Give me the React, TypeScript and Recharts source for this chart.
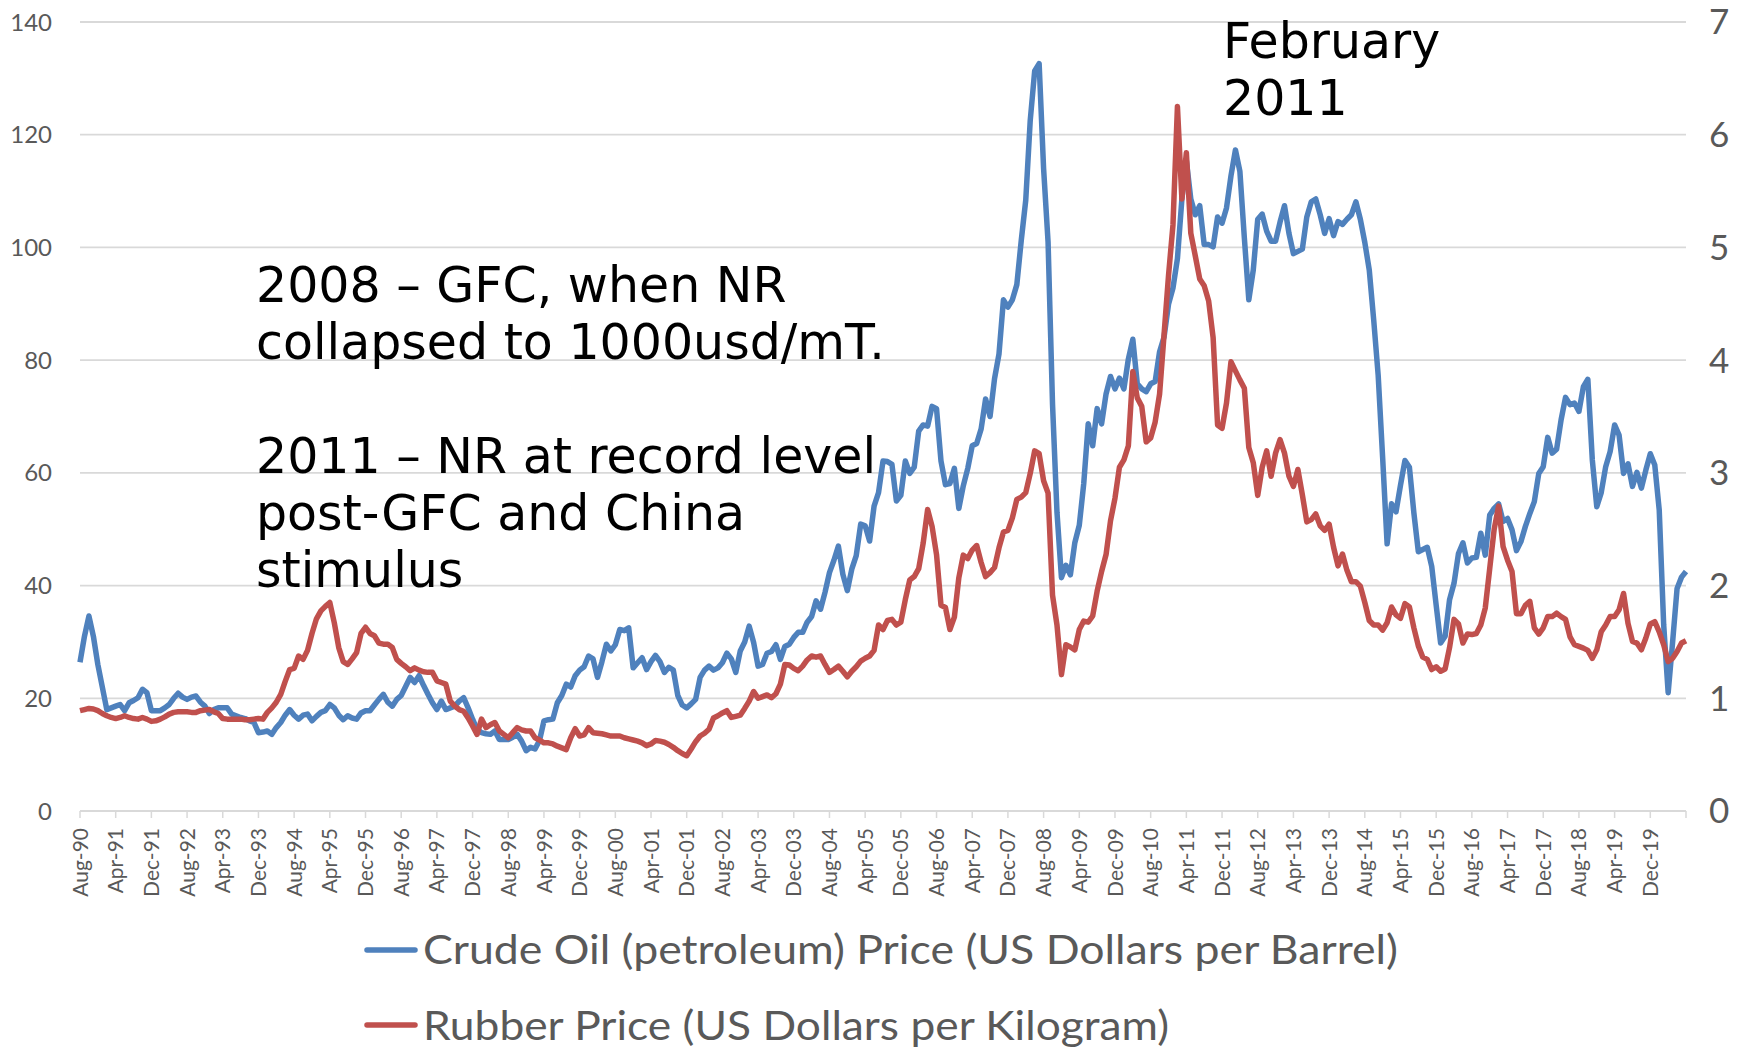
import React from 'react'
import { LineChart, Line, XAxis, YAxis, CartesianGrid, Legend } from 'recharts'

const MONTH_NAMES = ['Jan', 'Feb', 'Mar', 'Apr', 'May', 'Jun', 'Jul', 'Aug', 'Sep', 'Oct', 'Nov', 'Dec']

// crude oil, USD per barrel, monthly from Aug-90
const oilPrice = [
  // 1990 (Aug-Dec)
  26.4, 31.0, 34.6, 31.0, 26.0,
  // 1991
  22.0, 18.0, 18.3, 18.6, 18.9, 17.8, 19.2, 19.6, 20.1, 21.6, 21.0, 17.8,
  // 1992
  17.8, 17.8, 18.3, 18.9, 20.0, 20.9, 20.2, 19.8, 20.2, 20.4, 19.3, 18.6,
  // 1993
  17.3, 18.0, 18.3, 18.3, 18.3, 17.2, 16.9, 16.6, 16.4, 16.0, 15.7, 13.9,
  // 1994
  14.0, 14.2, 13.6, 14.8, 15.7, 17.0, 18.0, 17.0, 16.3, 17.0, 17.2, 16.0,
  // 1995
  16.8, 17.5, 17.8, 18.9, 18.3, 17.0, 16.2, 16.9, 16.5, 16.3, 17.4, 17.8,
  // 1996
  17.8, 18.8, 19.8, 20.7, 19.3, 18.6, 19.8, 20.5, 22.1, 23.7, 22.8, 24.0,
  // 1997
  22.3, 20.7, 19.2, 18.0, 19.5, 18.0, 18.3, 18.6, 19.5, 20.1, 18.3, 16.3,
  // 1998
  14.5, 13.9, 13.7, 13.6, 14.2, 12.7, 12.7, 12.7, 13.1, 13.6, 12.4, 10.7,
  // 1999
  11.3, 11.0, 12.5, 16.0, 16.2, 16.3, 19.2, 20.5, 22.5, 22.0, 24.0, 25.0,
  // 2000
  25.6, 27.5, 27.0, 23.7, 26.5, 29.6, 28.4, 29.5, 32.2, 32.0, 32.5, 25.4,
  // 2001
  26.3, 27.2, 25.1, 26.5, 27.6, 26.5, 24.6, 25.5, 25.0, 20.5, 18.8, 18.3,
  // 2002
  19.0, 19.8, 23.7, 25.0, 25.7, 25.0, 25.4, 26.3, 28.0, 27.0, 24.6, 28.4,
  // 2003
  30.0, 32.8, 29.9, 25.7, 26.0, 28.0, 28.3, 29.5, 26.9, 29.2, 29.6, 30.8,
  // 2004
  31.7, 31.7, 33.5, 34.5, 37.3, 35.8, 38.8, 42.3, 44.5, 47.0, 42.0, 39.1,
  // 2005
  42.9, 45.3, 50.9, 50.6, 47.9, 54.1, 56.5, 62.1, 62.0, 61.5, 55.0, 56.0,
  // 2006
  62.1, 59.9, 61.0, 67.4, 68.5, 68.3, 71.8, 71.4, 62.1, 57.9, 58.1, 60.8,
  // 2007
  53.7, 57.7, 60.8, 64.8, 65.2, 67.8, 73.1, 70.0, 76.7, 81.1, 90.7, 89.4,
  // 2008
  90.7, 93.4, 101.3, 108.4, 122.5, 131.3, 132.6, 114.0, 101.0, 72.2, 53.0, 41.4,
  // 2009
  43.6, 41.9, 47.6, 50.7, 58.1, 68.7, 64.8, 71.4, 68.7, 74.0, 77.1, 74.9,
  // 2010
  76.8, 74.9, 80.2, 83.7, 75.8, 74.9, 74.4, 75.8, 76.2, 81.5, 84.1, 89.9,
  // 2011
  92.8, 98.0, 108.6, 115.4, 108.6, 105.8, 107.4, 100.5, 100.5, 100.1, 105.4, 104.3,
  // 2012
  107.0, 112.7, 117.3, 113.5, 101.7, 90.7, 96.0, 105.0, 105.9, 102.9, 101.1, 101.1,
  // 2013
  104.5, 107.4, 102.5, 98.9, 99.3, 99.7, 105.4, 108.1, 108.6, 105.8, 102.5, 105.1,
  // 2014
  102.1, 104.6, 104.1, 105.0, 105.8, 108.1, 105.0, 100.9, 96.0, 87.1, 77.3, 62.7,
  // 2015
  47.4, 54.5, 53.1, 57.8, 62.2, 61.0, 52.9, 46.0, 46.4, 46.8, 43.4, 36.5,
  // 2016
  29.8, 31.0, 37.5, 40.4, 45.7, 47.6, 44.0, 44.9, 45.0, 49.3, 45.4, 52.5,
  // 2017
  53.7, 54.5, 51.4, 51.9, 49.9, 46.2, 47.8, 50.5, 52.8, 54.9, 59.9, 61.1,
  // 2018
  66.3, 63.5, 64.2, 69.4, 73.4, 72.1, 72.4, 70.9, 75.3, 76.6, 62.3, 54.0,
  // 2019
  56.5, 61.1, 63.8, 68.5, 66.7, 59.9, 61.6, 57.6, 60.1, 57.3, 60.5, 63.4,
  // 2020 (Jan-Aug)
  61.4, 53.4, 33.0, 21.0, 30.0, 39.5, 41.5, 42.5,
]

// natural rubber, USD per kg, same months
const rubberPrice = [
  // 1990
  0.89, 0.9, 0.91, 0.905, 0.89,
  // 1991
  0.865, 0.845, 0.83, 0.82, 0.83, 0.845, 0.83, 0.82, 0.815, 0.83, 0.815, 0.795,
  // 1992
  0.8, 0.815, 0.835, 0.86, 0.875, 0.88, 0.88, 0.88, 0.875, 0.875, 0.89, 0.895,
  // 1993
  0.9, 0.88, 0.865, 0.82, 0.815, 0.815, 0.815, 0.815, 0.81, 0.81, 0.815, 0.82,
  // 1994
  0.815, 0.875, 0.915, 0.965, 1.035, 1.15, 1.255, 1.265, 1.375, 1.345, 1.425, 1.575,
  // 1995
  1.705, 1.775, 1.815, 1.85, 1.67, 1.45, 1.325, 1.3, 1.35, 1.405, 1.575, 1.63,
  // 1996
  1.575, 1.555, 1.49, 1.48, 1.48, 1.45, 1.345, 1.31, 1.28, 1.245, 1.27, 1.25,
  // 1997
  1.235, 1.23, 1.23, 1.155, 1.14, 1.125, 0.975, 0.93, 0.9, 0.885, 0.825, 0.755,
  // 1998
  0.68, 0.815, 0.74, 0.765, 0.785, 0.71, 0.68, 0.65, 0.695, 0.74, 0.72, 0.71,
  // 1999
  0.71, 0.65, 0.63, 0.605, 0.605, 0.595, 0.575, 0.56, 0.545, 0.65, 0.73, 0.665,
  // 2000
  0.675, 0.74, 0.695, 0.69, 0.685, 0.675, 0.665, 0.665, 0.665, 0.65, 0.64, 0.63,
  // 2001
  0.62, 0.605, 0.58, 0.595, 0.625, 0.62, 0.61, 0.59, 0.565, 0.535, 0.51, 0.49,
  // 2002
  0.55, 0.615, 0.665, 0.69, 0.725, 0.825, 0.845, 0.87, 0.89, 0.83, 0.84, 0.85,
  // 2003
  0.91, 0.975, 1.06, 1.0, 1.015, 1.03, 1.005, 1.04, 1.125, 1.3, 1.295, 1.265,
  // 2004
  1.245, 1.285, 1.34, 1.375, 1.365, 1.375, 1.3, 1.23, 1.255, 1.285, 1.24, 1.19,
  // 2005
  1.24, 1.28, 1.33, 1.355, 1.375, 1.425, 1.65, 1.61, 1.69, 1.7, 1.65, 1.675,
  // 2006
  1.875, 2.05, 2.08, 2.15, 2.375, 2.675, 2.525, 2.275, 1.825, 1.805, 1.61, 1.72,
  // 2007
  2.07, 2.27, 2.24, 2.315, 2.355, 2.205, 2.08, 2.115, 2.16, 2.335, 2.475, 2.49,
  // 2008
  2.6, 2.765, 2.785, 2.825, 2.995, 3.195, 3.17, 2.93, 2.82, 1.915, 1.65, 1.21,
  // 2009
  1.475, 1.455, 1.43, 1.61, 1.685, 1.675, 1.73, 1.95, 2.125, 2.275, 2.575, 2.775,
  // 2010
  3.05, 3.115, 3.24, 3.9, 3.665, 3.59, 3.275, 3.31, 3.45, 3.7, 4.225, 4.75,
  // 2011
  5.2, 6.25, 5.43, 5.84, 5.125, 4.925, 4.72, 4.66, 4.525, 4.2, 3.425, 3.395,
  // 2012
  3.62, 3.985, 3.905, 3.825, 3.75, 3.225, 3.09, 2.8, 3.05, 3.195, 2.97, 3.175,
  // 2013
  3.295, 3.175, 2.97, 2.88, 3.03, 2.805, 2.565, 2.585, 2.635, 2.53, 2.49, 2.545,
  // 2014
  2.34, 2.175, 2.28, 2.135, 2.035, 2.035, 1.995, 1.85, 1.69, 1.65, 1.65, 1.605,
  // 2015
  1.67, 1.81, 1.74, 1.71, 1.84, 1.81, 1.625, 1.465, 1.365, 1.345, 1.255, 1.28,
  // 2016
  1.24, 1.26, 1.45, 1.7, 1.66, 1.49, 1.57, 1.565, 1.575, 1.65, 1.8, 2.15,
  // 2017
  2.5, 2.705, 2.345, 2.225, 2.125, 1.75, 1.75, 1.825, 1.86, 1.625, 1.57, 1.625,
  // 2018
  1.725, 1.725, 1.755, 1.725, 1.7, 1.545, 1.475, 1.46, 1.445, 1.425, 1.355, 1.43,
  // 2019
  1.59, 1.65, 1.725, 1.725, 1.785, 1.93, 1.665, 1.505, 1.49, 1.43, 1.535, 1.66,
  // 2020
  1.68, 1.59, 1.475, 1.325, 1.355, 1.415, 1.49, 1.51,
]

// Aug-90 ... Aug-20
const months = oilPrice.map((_, i) => {
  const m = 7 + i
  const yy = (1990 + Math.floor(m / 12)) % 100
  return `${MONTH_NAMES[m % 12]}-${String(yy).padStart(2, '0')}`
})

const tickLabels = [
  'Aug-90', 'Apr-91', 'Dec-91', 'Aug-92', 'Apr-93', 'Dec-93', 'Aug-94', 'Apr-95', 'Dec-95',
  'Aug-96', 'Apr-97', 'Dec-97', 'Aug-98', 'Apr-99', 'Dec-99', 'Aug-00', 'Apr-01', 'Dec-01',
  'Aug-02', 'Apr-03', 'Dec-03', 'Aug-04', 'Apr-05', 'Dec-05', 'Aug-06', 'Apr-07', 'Dec-07',
  'Aug-08', 'Apr-09', 'Dec-09', 'Aug-10', 'Apr-11', 'Dec-11', 'Aug-12', 'Apr-13', 'Dec-13',
  'Aug-14', 'Apr-15', 'Dec-15', 'Aug-16', 'Apr-17', 'Dec-17', 'Aug-18', 'Apr-19', 'Dec-19',
]
const endTick = 'Aug-20' // tick mark only, no label

const leftTicks = [0, 20, 40, 60, 80, 100, 120, 140]
const rightTicks = [0, 1, 2, 3, 4, 5, 6, 7]

const OIL_NAME = 'Crude Oil (petroleum) Price (US Dollars per Barrel)'
const RUBBER_NAME = 'Rubber Price (US Dollars per Kilogram)'

const gfcNote = [
  '2008 – GFC, when NR',
  'collapsed to 1000usd/mT.',
  '',
  '2011 – NR at record level',
  'post-GFC and China',
  'stimulus',
]
const peakNote = ['February', '2011']

const rows = months.map((month, i) => ({ month, oil: oilPrice[i], rubber: rubberPrice[i] }))

const axisColor = '#d9d9d9'
const labelColor = '#595959'

function MonthTick({ x, y, payload }: any) {
  if (!tickLabels.includes(payload.value)) return <g />
  return (
    <text
      x={x}
      y={y}
      dy="0.36em"
      textAnchor="end"
      transform={`rotate(-90 ${x} ${y})`}
      fill={labelColor}
      fontSize={21}
      fontFamily="Lato"
    >
      {payload.value}
    </text>
  )
}

function LegendBox({ payload }: any) {
  const widths = [975, 746]
  return (
    <svg width={1754} height={140} style={{ display: 'block' }}>
      {(payload ?? []).map((item: any, i: number) => (
        <g key={item.value}>
          <line x1={367} x2={415} y1={42 + i * 75} y2={42 + i * 75} stroke={item.color} strokeWidth={5.5} strokeLinecap="round" />
          <text
            x={423}
            y={56 + i * 76}
            fill={labelColor}
            fontSize={40}
            fontFamily="Lato"
            textLength={widths[i]}
            lengthAdjust="spacingAndGlyphs"
          >
            {item.value}
          </text>
        </g>
      ))}
    </svg>
  )
}

export default function App() {
  return (
    <div style={{ position: 'absolute', left: 0, top: 0, width: 1754, height: 1048, background: '#fff' }}>
      <LineChart width={1754} height={1048} data={rows} margin={{ top: 22, right: 0, bottom: 0, left: 10 }}>
        <CartesianGrid vertical={false} yAxisId="left" stroke={axisColor} strokeWidth={1.8} />
        <XAxis
          dataKey="month"
          ticks={[...tickLabels, endTick]}
          interval={0}
          height={97}
          tickSize={7}
          tickMargin={10}
          tick={<MonthTick />}
          axisLine={{ stroke: axisColor, strokeWidth: 1.8 }}
          tickLine={{ stroke: axisColor, strokeWidth: 1.5 }}
        />
        <YAxis
          yAxisId="left"
          domain={[0, 140]}
          ticks={leftTicks}
          interval={0}
          width={70}
          axisLine={false}
          tickLine={false}
          tickSize={0}
          tickMargin={28}
          tick={{ fill: labelColor, fontSize: 24, fontFamily: 'Lato' }}
        />
        <YAxis
          yAxisId="right"
          orientation="right"
          domain={[0, 7]}
          ticks={rightTicks}
          interval={0}
          width={68}
          axisLine={false}
          tickLine={false}
          tickSize={0}
          tickMargin={23}
          tick={{ fill: labelColor, fontSize: 35, fontFamily: 'Lato' }}
        />
        <Legend verticalAlign="bottom" content={<LegendBox />} wrapperStyle={{ left: 0, width: 1754, height: 140 }} />
        <Line
          yAxisId="left"
          type="linear"
          dataKey="oil"
          name={OIL_NAME}
          stroke="#4F81BD"
          strokeWidth={5.5}
          strokeLinejoin="round"
          dot={false}
          activeDot={false}
          isAnimationActive={false}
        />
        <Line
          yAxisId="right"
          type="linear"
          dataKey="rubber"
          name={RUBBER_NAME}
          stroke="#C0504D"
          strokeWidth={5.5}
          strokeLinejoin="round"
          dot={false}
          activeDot={false}
          isAnimationActive={false}
        />
      </LineChart>
      <svg
        width={1754}
        height={1048}
        style={{ position: 'absolute', left: 0, top: 0, pointerEvents: 'none' }}
      >
        {gfcNote.map((line, i) => (
          <text key={i} x={256} y={302 + i * 57} fontSize={49} fontFamily="DejaVu Sans" fill="#000">
            {line}
          </text>
        ))}
        {peakNote.map((line, i) => (
          <text key={i} x={1223} y={58 + i * 57} fontSize={49} fontFamily="DejaVu Sans" fill="#000">
            {line}
          </text>
        ))}
      </svg>
    </div>
  )
}
